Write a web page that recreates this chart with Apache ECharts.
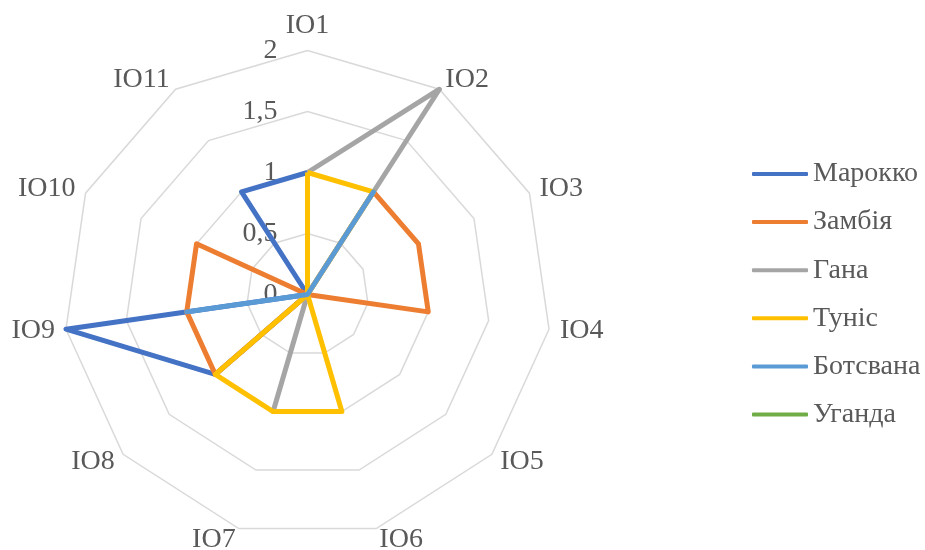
<!DOCTYPE html>
<html>
<head>
<meta charset="utf-8">
<script src="https://cdn.jsdelivr.net/npm/echarts@6/dist/echarts.min.js"></script>
<style>
  html, body { margin: 0; padding: 0; background: #fff; }
  #chart { width: 925px; height: 550px; }
</style>
</head>
<body>
<div id="chart"></div>
<script>
// Indicators around the radar, clockwise from the top
const indicators = ['IO1', 'IO2', 'IO3', 'IO4', 'IO5', 'IO6', 'IO7', 'IO8', 'IO9', 'IO10', 'IO11'];

// Country names (legend order)
const countries = ['Марокко', 'Замбія', 'Гана', 'Туніс', 'Ботсвана', 'Уганда'];

// Scores per indicator, IO1..IO11
const morocco  = [1, 0, 0, 0, 0, 0, 0, 1, 2, 0, 1];
const zambia   = [0, 1, 1, 1, 0, 0, 0, 1, 1, 1, 0];
const ghana    = [1, 2, 0, 0, 0, 0, 1, 0, 0, 0, 0];
const tunisia  = [1, 1, 0, 0, 0, 1, 1, 1, 0, 0, 0];
const botswana = [0, 1, 0, 0, 0, 0, 0, 0, 1, 0, 0];
const uganda   = [0, 0, 0, 0, 0, 0, 0, 0, 0, 0, 0];

const seriesValues = [morocco, zambia, ghana, tunisia, botswana, uganda];
const colors = ['#4472C4', '#ED7D31', '#A5A5A5', '#FFC000', '#5B9BD5', '#70AD47'];

const FONT = '"Liberation Serif", "Times New Roman", serif';
const TEXT = '#595959';
const SIZE = 28;

// ECharts lays radar indicators out counter-clockwise; reorder so that
// IO1, IO2, ... run clockwise from the top: IO1, IO11, IO10, ..., IO2.
const order = indicators.map((_, k) => (indicators.length - k) % indicators.length);
const clockwise = arr => order.map(i => arr[i]);

const indicatorOpts = clockwise(indicators).map((name, k) => {
  const o = { name: name, min: 0, max: 2 };
  if (k === 0) {
    o.axisLabel = {
      show: true,
      margin: 30,
      color: TEXT,
      fontFamily: FONT,
      fontSize: SIZE,
      formatter: v => String(v).replace('.', ',')
    };
  }
  return o;
});

const chart = echarts.init(document.getElementById('chart'), null, { renderer: 'canvas' });

chart.setOption({
  animation: false,
  backgroundColor: '#ffffff',
  color: colors,
  legend: {
    orient: 'vertical',
    left: 747,
    top: 153,
    itemWidth: 56,
    itemHeight: 4,
    itemGap: 16.1,
    icon: 'roundRect',
    textStyle: { color: TEXT, fontFamily: FONT, fontSize: SIZE, lineHeight: 32 },
    data: countries
  },
  radar: {
    center: [307.5, 294.5],
    radius: 244,
    startAngle: 90,
    splitNumber: 4,
    shape: 'polygon',
    nameGap: 11,
    axisName: { color: TEXT, fontFamily: FONT, fontSize: SIZE },
    axisLine: { show: false },
    axisTick: { show: false },
    axisLabel: { show: false },
    splitArea: { show: false },
    splitLine: { lineStyle: { color: '#D9D9D9', width: 1.5 } },
    indicator: indicatorOpts
  },
  series: [{
    type: 'radar',
    symbol: 'none',
    lineStyle: { width: 5 },
    data: countries.map((name, i) => ({
      name: name,
      value: clockwise(seriesValues[i]),
      lineStyle: { color: colors[i], width: 5 },
      itemStyle: { color: colors[i] }
    }))
  }]
});
</script>
</body>
</html>
